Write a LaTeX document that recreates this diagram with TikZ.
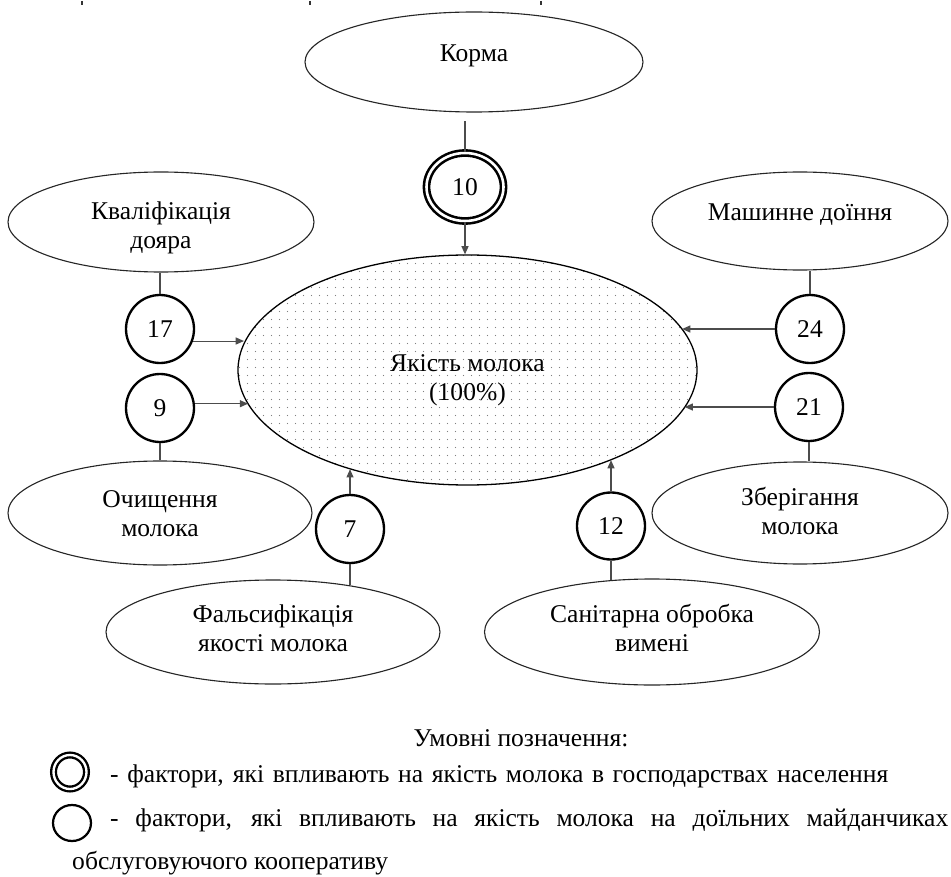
\documentclass[tikz,border=0pt]{standalone}
\usepackage{fontspec}
\setmainfont{Liberation Serif}
\usetikzlibrary{shapes.geometric,arrows.meta,patterns.meta}
\newdimen\upx \upx=0.03cm
\newcommand\twolines[3]{\raisebox{#1}[\height][\depth]{\begin{tabular}{@{}c@{}}#2\\#3\end{tabular}}}
\begin{document}
\begin{tikzpicture}[x=0.03cm,y=-0.03cm,
  font=\fontsize{21.8}{25.6}\selectfont,
  factor/.style={ellipse,draw=black!85,line width=0.95pt,inner sep=0pt,align=center},
  ring/.style={ellipse,draw=black,line width=2pt,inner sep=0pt,minimum width=68\upx,minimum height=68\upx},
  dring/.style={ellipse,draw=black,double,line width=2.2pt,double distance=2.2pt,inner sep=0pt},
  qual/.style={ellipse,draw=black,line width=1.1pt,inner sep=0pt,align=center,
    pattern={Dots[distance=6.4pt,radius=0.5pt]},pattern color=black!50},
  conn/.style={draw=black!70,line width=0.9pt},
  arr/.style={conn,-{Triangle[length=7pt,width=6pt]}},
  lgtext/.style={inner sep=0pt}
]
\useasboundingbox (0,0) rectangle (951,877);

% stray marks at top
\draw[line width=1.2pt,black!80] (82,1) -- (82,5);
\draw[line width=1.2pt,black!80] (310,1) -- (310,5);
\draw[line width=1.2pt,black!80] (541,1) -- (541,5);

% factor ellipses
\node[factor,minimum width=338\upx,minimum height=100\upx] (korma) at (474,62) {\raisebox{6\upx}[\height][\depth]{Корма}};
\node[factor,minimum width=306\upx,minimum height=100\upx] (kval) at (161,222) {\twolines{-6\upx}{Кваліфікація}{дояра}};
\node[factor,minimum width=296\upx,minimum height=98\upx] (mash) at (800,221) {\raisebox{6\upx}[\height][\depth]{Машинне доїння}};
\node[factor,minimum width=304\upx,minimum height=104\upx] (och) at (160,513) {\twolines{-3\upx}{Очищення}{молока}};
\node[factor,minimum width=296\upx,minimum height=102\upx] (zber) at (800,513) {\twolines{-1\upx}{Зберігання}{молока}};
\node[factor,minimum width=334\upx,minimum height=104\upx] (fals) at (273,632) {\twolines{1\upx}{Фальсифікація}{якості молока}};
\node[factor,minimum width=335\upx,minimum height=106\upx] (san) at (652,632) {\twolines{1\upx}{Санітарна обробка}{вимені}};

% central ellipse
\node[qual,minimum width=459\upx,minimum height=230\upx] (quality) at (467.5,370) {\twolines{-10\upx}{Якість молока}{(100\%)}};

% factor circles
\node[dring,minimum width=77\upx,minimum height=68\upx] (c10) at (465,187) {10};
\node[ring] (c17) at (160,329) {17};
\node[ring] (c9) at (160,408) {9};
\node[ring] (c24) at (810,329) {24};
\node[ring] (c21) at (809,407) {21};
\node[ring] (c7) at (350,529) {7};
\node[ring,minimum height=67\upx] (c12) at (611,526) {12};

% connectors
\draw[conn,shorten >=8\upx] (c10.north) -- (c10.north |- korma.south);
\draw[arr] (c10.south) -- (c10.south |- quality.north);
\draw[conn] (c17.north) -- (c17.north |- kval.south);
\draw[arr] (c17.340) -- (c17.340 -| quality.173);
\draw[arr] (c9.7) -- (c9.7 -| quality.189);
\draw[conn] (c9.south) -- (c9.south |- och.north);
\draw[conn] (c24.north) -- (c24.north |- mash.south);
\draw[arr] (c24.west) -- (c24.west -| quality.11);
\draw[arr] (c21.west) -- (c21.west -| quality.350);
\draw[conn] (c21.south) -- (c21.south |- zber.north);
\draw[arr] (c7.north) -- (c7.north |- quality.220);
\draw[conn] (c7.south) -- (c7.south |- fals.31);
\draw[arr] (c12.north) -- (c12.north |- quality.328);
\draw[conn] (c12.south) -- (c12.south |- san.129);

% legend
\node (lgtitle) at (521,738) {Умовні позначення:};
\node[dring,line width=2pt,double distance=2pt,minimum width=33\upx,minimum height=34\upx] (lgd) at (70,772) {};
\node[ring,line width=1.9pt,minimum width=38\upx,minimum height=36\upx] (lgs) at (72,823) {};
\node[lgtext,anchor=west] (lg1) at (110,776) {\makebox[778\upx][s]{- фактори, які впливають на якість молока в господарствах населення}};
\node[lgtext,anchor=west] (lg2) at (110,820) {\makebox[838\upx][s]{- фактори, які впливають на якість молока на доїльних майданчиках}};
\node[lgtext,anchor=west] (lg3) at (72,863) {обслуговуючого кооперативу};
\end{tikzpicture}
\end{document}
